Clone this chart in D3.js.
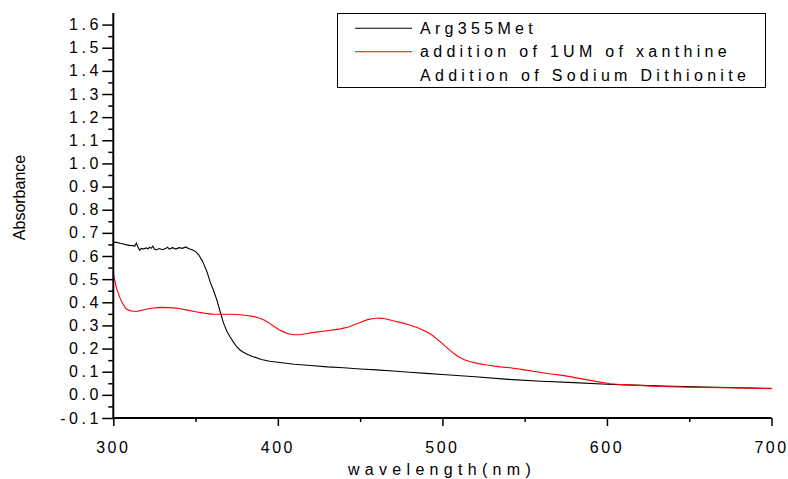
<!DOCTYPE html>
<html><head><meta charset="utf-8">
<script src="https://cdn.jsdelivr.net/npm/d3@7"></script>
<style>body{margin:0;background:#fff} text{font-family:Arial,"Liberation Sans",sans-serif;fill:#000}</style>
</head><body><svg id="c" width="788" height="479"></svg>
<script>
// ---- data ----
const blackNm = [300,302,304,306,308,310,312,313,314,315,316,317,318,320,321,322,323,324,325,326,328,330,332,333,334,336,338,340,342,344,346,348,350,352,354,355,357,359,361,363,365,367,369,371,373,375,377,379,382,385,390,395,400,410,420,430,440,450,460,470,480,490,500,520,540,560,580,600,620,640,660,680,700];
const blackAbs = [0.659,0.659,0.655,0.652,0.648,0.646,0.645,0.642,0.656,0.639,0.625,0.633,0.630,0.635,0.630,0.638,0.633,0.642,0.630,0.626,0.632,0.627,0.633,0.638,0.630,0.636,0.630,0.636,0.633,0.639,0.631,0.627,0.619,0.604,0.580,0.565,0.530,0.485,0.450,0.408,0.358,0.310,0.275,0.250,0.228,0.208,0.194,0.184,0.173,0.165,0.153,0.145,0.141,0.132,0.127,0.121,0.117,0.112,0.108,0.103,0.098,0.093,0.088,0.078,0.067,0.059,0.053,0.046,0.041,0.037,0.034,0.031,0.028];
const redNm = [300,301,302,304,305,307,308,310,312,315,318,322,328,334,340,345,350,355,360,365,370,375,380,385,389,392,395,398,401,404,407,410,413,417,422,430,438,443,446,450,454,458,462,466,470,475,480,485,490,493,497,501,505,509,513,517,522,527,535,541,550,557,565,574,584,594,602,610,620,632,650,670,685,700];
const redAbs = [0.525,0.49,0.46,0.42,0.403,0.38,0.371,0.364,0.361,0.362,0.367,0.373,0.378,0.377,0.373,0.366,0.359,0.353,0.349,0.348,0.348,0.347,0.344,0.339,0.331,0.322,0.309,0.294,0.280,0.270,0.263,0.260,0.260,0.264,0.270,0.277,0.285,0.293,0.302,0.313,0.324,0.330,0.332,0.328,0.320,0.312,0.302,0.290,0.274,0.262,0.240,0.215,0.190,0.168,0.153,0.143,0.135,0.129,0.121,0.117,0.108,0.100,0.091,0.083,0.070,0.057,0.048,0.044,0.041,0.036,0.033,0.031,0.029,0.027];
const legendLabels = ["Arg355Met","addition of 1UM of xanthine","Addition of Sodium Dithionite"];
const legendColors = ["#000000","#ff0000",null];
const xMajor = [300,400,500,600,700];
const xMajorLabels = ["300","400","500","600","700"];
const xMinor = [350,450,550,650];
const yMajor = [-0.1,0,0.1,0.2,0.3,0.4,0.5,0.6,0.7,0.8,0.9,1.0,1.1,1.2,1.3,1.4,1.5,1.6];
const yMajorLabels = ["-0.1","0.0","0.1","0.2","0.3","0.4","0.5","0.6","0.7","0.8","0.9","1.0","1.1","1.2","1.3","1.4","1.5","1.6"];
const yMinor = [-0.05,0.05,0.15,0.25,0.35,0.45,0.55,0.65,0.75,0.85,0.95,1.05,1.15,1.25,1.35,1.45,1.55];
const xTitle = "wavelength(nm)";
const yTitle = "Absorbance";

// ---- drawing ----
const svg = d3.select("#c");
const x = d3.scaleLinear().domain([300,700]).range([113.3,771.5]);
const y = d3.scaleLinear().domain([-0.1,1.65]).range([418,13]);

const line = d3.line().x(d=>x(d[0])).y(d=>y(d[1]));
svg.append("path").datum(d3.zip(blackNm,blackAbs)).attr("d",line)
  .attr("fill","none").attr("stroke","#000").attr("stroke-width",1.1);
svg.append("path").datum(d3.zip(redNm,redAbs)).attr("d",line)
  .attr("fill","none").attr("stroke","#ff0000").attr("stroke-width",1.1);

// axes
const gx = svg.append("g").attr("transform","translate(0,418)");
gx.call(d3.axisBottom(x).tickValues(xMinor).tickSize(4).tickFormat(""));
const gx2 = svg.append("g").attr("transform","translate(0,418)");
gx2.call(d3.axisBottom(x).tickValues(xMajor).tickSize(8).tickFormat((d,i)=>xMajorLabels[i]).tickPadding(16));
const gy = svg.append("g").attr("transform","translate(113.3,0)");
gy.call(d3.axisLeft(y).tickValues(yMinor).tickSize(5).tickFormat(""));
const gy2 = svg.append("g").attr("transform","translate(113.3,0)");
gy2.call(d3.axisLeft(y).tickValues(yMajor).tickSize(11).tickFormat((d,i)=>yMajorLabels[i]).tickPadding(4));
svg.selectAll(".domain").remove();
svg.selectAll(".tick line").attr("stroke","#000").attr("stroke-width",1.5);
gx2.selectAll(".tick text").attr("font-size",16).attr("font-family","Arial,'Liberation Sans',sans-serif")
  .style("letter-spacing","2.5px").attr("dx","-0.5px").attr("fill","#000");
gy2.selectAll(".tick text").attr("font-size",16).attr("font-family","Arial,'Liberation Sans',sans-serif")
  .style("letter-spacing","3.5px").attr("dx","3.5px").attr("fill","#000");
svg.append("line").attr("x1",113.3).attr("x2",113.3).attr("y1",y(1.65)).attr("y2",418).attr("stroke","#000").attr("stroke-width",2);
svg.append("line").attr("x1",113.3).attr("x2",x(700)).attr("y1",418).attr("y2",418).attr("stroke","#000").attr("stroke-width",2);

// titles
svg.append("text").attr("x",442).attr("y",475).attr("text-anchor","middle").attr("font-size",16)
  .style("letter-spacing","5.3px").text(xTitle);
svg.append("text").attr("transform","translate(24.5,197.5) rotate(-90)").attr("text-anchor","middle")
  .attr("font-size",16).text(yTitle);

// legend
const lg = svg.append("g");
lg.append("rect").attr("x",337.5).attr("y",13.5).attr("width",428).attr("height",74)
  .attr("fill","#fff").attr("stroke","#000").attr("stroke-width",1);
legendLabels.forEach((lab,i)=>{
  const cy = 28.3 + i*23.5;
  if (legendColors[i]) lg.append("line").attr("x1",355).attr("x2",412).attr("y1",cy).attr("y2",cy)
    .attr("stroke",legendColors[i]).attr("stroke-width",1.1);
  lg.append("text").attr("x",420).attr("y",cy+5.3).attr("font-size",16)
    .style("letter-spacing","4.3px").text(lab);
});
</script></body></html>
